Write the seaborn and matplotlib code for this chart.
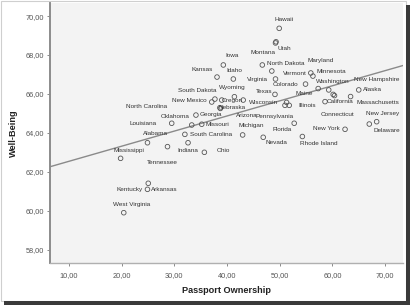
import matplotlib
matplotlib.use("Agg")
import matplotlib.pyplot as plt
import seaborn as sns
import pandas as pd
from matplotlib.ticker import FuncFormatter, FixedLocator
from matplotlib.patches import Rectangle

# ---- data ----
states = ["Hawaii", "Utah", "Montana", "Iowa", "Idaho", "Kansas", "North Dakota",
          "Maryland", "Minnesota", "Vermont", "Virginia", "Colorado", "Washington",
          "Maine", "New Hampshire", "Connecticut", "Massachusetts", "Alaska",
          "California", "New Jersey", "Delaware", "New York", "Rhode Island",
          "Florida", "Michigan", "Nevada", "Pennsylvania", "Wisconsin", "Illinois",
          "Nebraska", "Arizona", "Texas", "Wyoming", "Oregon", "South Dakota",
          "New Mexico", "North Carolina", "Georgia", "Oklahoma", "Missouri",
          "Louisiana", "South Carolina", "Indiana", "Ohio", "Alabama", "Tennessee",
          "Mississippi", "Kentucky", "Arkansas", "West Virginia"]
passport = [49.9, 49.3, 49.2, 39.3, 41.2, 38.1, 46.7,
            55.9, 56.3, 48.5, 49.2, 54.9, 57.3,
            59.3, 60.15, 60.4, 63.45, 65.0,
            58.6, 68.4, 67.0, 62.4, 54.3,
            52.75, 42.96, 46.87, 51.0, 51.3, 51.8,
            43.07, 38.75, 49.1, 41.4, 39.0, 37.7,
            37.1, 38.65, 34.1, 33.3, 35.2,
            29.5, 32.0, 32.6, 35.7, 24.9, 28.7,
            19.8, 25.05, 24.9, 20.4]
wellbeing = [69.37, 68.68, 68.62, 67.49, 66.77, 66.87, 67.49,
             67.08, 66.92, 67.18, 66.77, 66.51, 66.28,
             66.21, 65.98, 65.92, 65.87, 66.21,
             65.61, 64.58, 64.46, 64.19, 63.82,
             64.50, 63.90, 63.78, 65.42, 65.57, 65.42,
             65.69, 65.26, 65.98, 65.86, 65.69, 65.74,
             65.59, 65.30, 64.92, 64.41, 64.45,
             64.50, 63.93, 63.50, 63.01, 63.50, 63.30,
             62.70, 61.42, 61.11, 59.91]
x_ticks = [10, 20, 30, 40, 50, 60, 70]
y_ticks = [58, 60, 62, 64, 66, 68, 70]

# label placement (pixel offsets of label centre from point; +dy = down)
label_offsets = {
    "Hawaii": (4.7, -9.3), "Utah": (8.7, 6.3), "Montana": (-12.6, 9.6),
    "Iowa": (8.5, -9), "Idaho": (0.7, -8.5), "Kansas": (-15.3, -8),
    "North Dakota": (23.5, -1.5), "Maryland": (10, -12), "Minnesota": (18, -5),
    "Vermont": (23.3, 2.5), "Virginia": (-17.7, 0), "Colorado": (-19.7, 0),
    "Washington": (14.7, -7.5), "Maine": (-25, 4), "New Hampshire": (43.7, -15.3),
    "Connecticut": (2.5, 18.5), "Massachusetts": (27.3, 5.5), "Alaska": (13.3, 0),
    "California": (15, 0.3), "New Jersey": (6.3, -8.2), "Delaware": (17.7, 6),
    "New York": (-19, -0.8), "Rhode Island": (16.3, 7), "Florida": (-12.3, 6.7),
    "Michigan": (8.3, -9), "Nevada": (13.7, 5.7), "Pennsylvania": (-10, 10.7),
    "Wisconsin": (-22.7, -0.3), "Illinois": (17.7, -0.3), "Nebraska": (-11.3, 7),
    "Arizona": (26.5, 7.5), "Texas": (-11, -3.3), "Wyoming": (-2.3, -9.2),
    "Oregon": (11, 0), "South Dakota": (-17.5, -8.5), "New Mexico": (-22, -1.5),
    "North Carolina": (-73, -1.2), "Georgia": (15, -1), "Oklahoma": (-16.7, -9),
    "Missouri": (15.3, 0.7), "Louisiana": (-28.7, 0), "South Carolina": (26, 0),
    "Indiana": (0, 7.3), "Ohio": (18.7, -1.6), "Alabama": (8.3, -9.2),
    "Tennessee": (-5.2, 16), "Mississippi": (8.8, -8.3), "Kentucky": (-18.3, 6),
    "Arkansas": (16.7, 0), "West Virginia": (8, -8.4),
}

df = pd.DataFrame({"State": states, "Passport Ownership": passport,
                   "Well-Being": wellbeing})

sns.set_theme(style="white")
plt.rcParams["font.family"] = ["Liberation Sans", "DejaVu Sans"]

DPI = 100
W, H = 413, 308
fig = plt.figure(figsize=(W / DPI, H / DPI), dpi=DPI, facecolor="white")
ax = fig.add_axes([50 / W, 45 / H, 353 / W, 260 / H])
ax.set_facecolor("#f3f3f3")
ax.set_xlim(6.4, 73.4)
ax.set_ylim(57.33, 70.67)

sns.regplot(data=df, x="Passport Ownership", y="Well-Being", ax=ax,
            scatter=False, ci=None, truncate=False,
            line_kws=dict(color="#8a8a8a", lw=1.0))
sns.scatterplot(data=df, x="Passport Ownership", y="Well-Being", ax=ax,
                marker="o", s=11, facecolor="none", edgecolor="#555555",
                linewidth=0.6, zorder=3)

px2pt = 72.0 / DPI
for st, xv, yv in zip(states, passport, wellbeing):
    dx, dy = label_offsets.get(st, (10, 0))
    ax.annotate(st, (xv, yv), xytext=(dx * px2pt, -dy * px2pt),
                textcoords="offset points", ha="center", va="center",
                fontsize=4.6, color="#333333", zorder=4)

fmt = FuncFormatter(lambda v, p: f"{v:.2f}".replace(".", ","))
ax.xaxis.set_major_locator(FixedLocator(x_ticks))
ax.yaxis.set_major_locator(FixedLocator(y_ticks))
ax.xaxis.set_major_formatter(fmt)
ax.yaxis.set_major_formatter(fmt)
ax.tick_params(axis="both", direction="out", length=2.5, width=0.6,
               color="#777777", labelsize=5.3, labelcolor="#555555", pad=2)
ax.tick_params(axis="x", pad=4)
ax.xaxis.set_ticks_position("bottom")
ax.yaxis.set_ticks_position("left")

for side in ["top", "right"]:
    ax.spines[side].set_visible(False)
ax.spines["left"].set_color("#8c8c8c")
ax.spines["left"].set_linewidth(1.4)
ax.spines["bottom"].set_color("#b0b0b0")
ax.spines["bottom"].set_linewidth(1.0)

ax.set_xlabel("Passport Ownership", fontsize=6.6, fontweight="bold",
              color="#222222", labelpad=5)
ax.set_ylabel("Well-Being", fontsize=6.6, fontweight="bold",
              color="#222222", labelpad=5)

# picture frame with thin dark shadow on right/bottom
fig.patches.append(Rectangle((0.5 / W, 7 / H), 405 / W, 300 / H,
                             transform=fig.transFigure, fill=False,
                             edgecolor="#cfcfcf", lw=0.8))
fig.patches.append(Rectangle((406 / W, 3 / H), 4 / W, 300 / H,
                             transform=fig.transFigure,
                             facecolor="#3a3a3a", edgecolor="none"))
fig.patches.append(Rectangle((4 / W, 3 / H), 406 / W, 4 / H,
                             transform=fig.transFigure,
                             facecolor="#3a3a3a", edgecolor="none"))

fig.savefig("out.png", dpi=DPI, facecolor="white")
